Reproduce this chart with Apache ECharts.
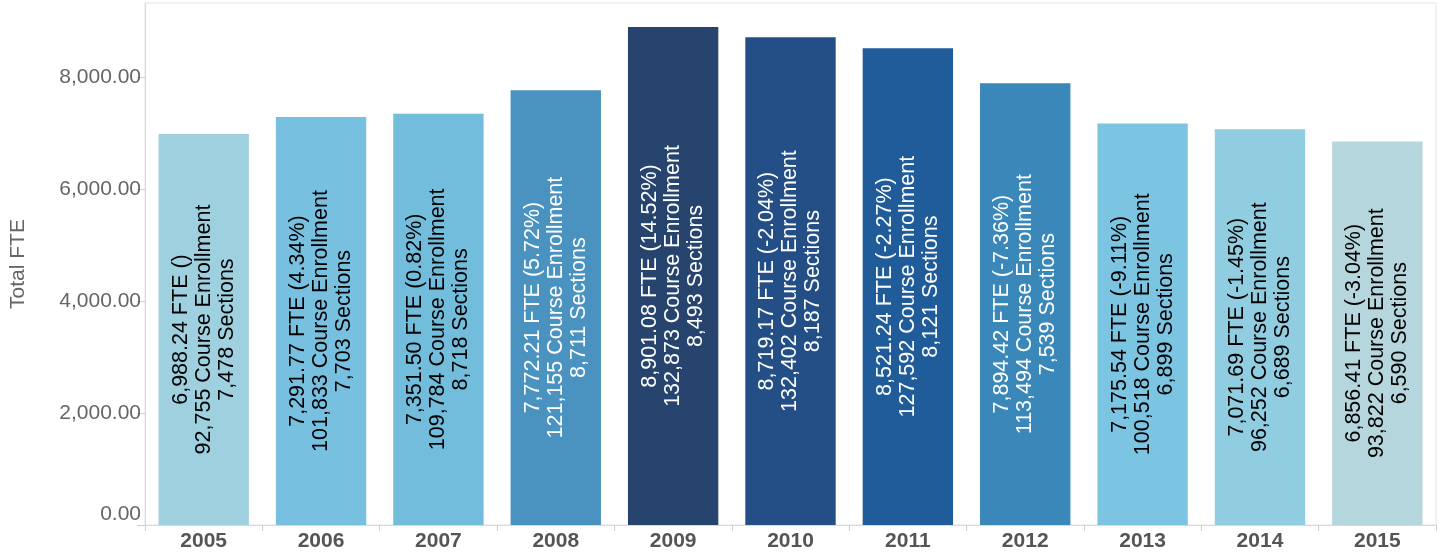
<!DOCTYPE html>
<html>
<head>
<meta charset="utf-8">
<script src="https://cdn.jsdelivr.net/npm/echarts@6/dist/echarts.min.js"></script>
<style>
html,body{margin:0;padding:0;background:#fff;}
#chart{width:1440px;height:558px;}
</style>
</head>
<body>
<div id="chart"></div>
<script>
const years = ['2005','2006','2007','2008','2009','2010','2011','2012','2013','2014','2015'];
const fte = [6988.24, 7291.77, 7351.50, 7772.21, 8901.08, 8719.17, 8521.24, 7894.42, 7175.54, 7071.69, 6856.41];
const fteChange = ['', '4.34%', '0.82%', '5.72%', '14.52%', '-2.04%', '-2.27%', '-7.36%', '-9.11%', '-1.45%', '-3.04%'];
const enrollment = ['92,755', '101,833', '109,784', '121,155', '132,873', '132,402', '127,592', '113,494', '100,518', '96,252', '93,822'];
const sections = ['7,478', '7,703', '8,718', '8,711', '8,493', '8,187', '8,121', '7,539', '6,899', '6,689', '6,590'];
const barColors = ['#9fd0df', '#77c0e0', '#72bcdc', '#4a93c0', '#26446e', '#234f86', '#1f5c99', '#3a87ba', '#7cc5e2', '#91cde0', '#b5d6dc'];
const labelColors = ['#000', '#000', '#000', '#fff', '#fff', '#fff', '#fff', '#fff', '#000', '#000', '#000'];

const fmt = v => v.toLocaleString('en-US', {minimumFractionDigits: 2, maximumFractionDigits: 2});

const chart = echarts.init(document.getElementById('chart'));
chart.setOption({
  animation: false,
  grid: {left: 143, right: 4, top: 3, bottom: 33, show: true, borderColor: '#e4e4e4', borderWidth: 1, backgroundColor: 'transparent'},
  xAxis: {
    type: 'category',
    data: years,
    axisLine: {lineStyle: {color: '#d9d9d9', width: 1}},
    axisTick: {show: true, length: 6, lineStyle: {color: '#cfcfcf'}},
    axisLabel: {color: '#555', fontSize: 21, fontWeight: 'bold', fontFamily: 'Liberation Sans, Arial, sans-serif', margin: 6}
  },
  yAxis: {
    type: 'value',
    min: 0,
    max: 9330,
    interval: 2000,
    name: 'Total FTE',
    nameLocation: 'middle',
    nameGap: 116,
    nameTextStyle: {color: '#666', fontSize: 21, fontFamily: 'Liberation Sans, Arial, sans-serif'},
    axisLine: {show: true, lineStyle: {color: '#d9d9d9'}},
    axisTick: {show: true, length: 8, lineStyle: {color: '#cfcfcf'}},
    splitLine: {show: false},
    axisLabel: {
      color: '#666', fontSize: 21, fontFamily: 'Liberation Sans, Arial, sans-serif', margin: 4,
      showMaxLabel: false,
      verticalAlignMinLabel: 'bottom',
      formatter: v => fmt(v)
    }
  },
  series: [{
    type: 'bar',
    barCategoryGap: '23%',
    data: fte.map((v, i) => ({
      value: v,
      itemStyle: {color: barColors[i]},
      label: {color: labelColors[i]}
    })),
    label: {
      show: true,
      position: 'inside',
      rotate: 90,
      align: 'center',
      verticalAlign: 'middle',
      fontSize: 21.5,
      lineHeight: 23,
      fontFamily: 'Liberation Sans, Arial, sans-serif',
      formatter: p => fmt(fte[p.dataIndex]) + ' FTE (' + fteChange[p.dataIndex] + ')\n' +
        enrollment[p.dataIndex] + ' Course Enrollment\n' + sections[p.dataIndex] + ' Sections'
    }
  }]
});
</script>
</body>
</html>
